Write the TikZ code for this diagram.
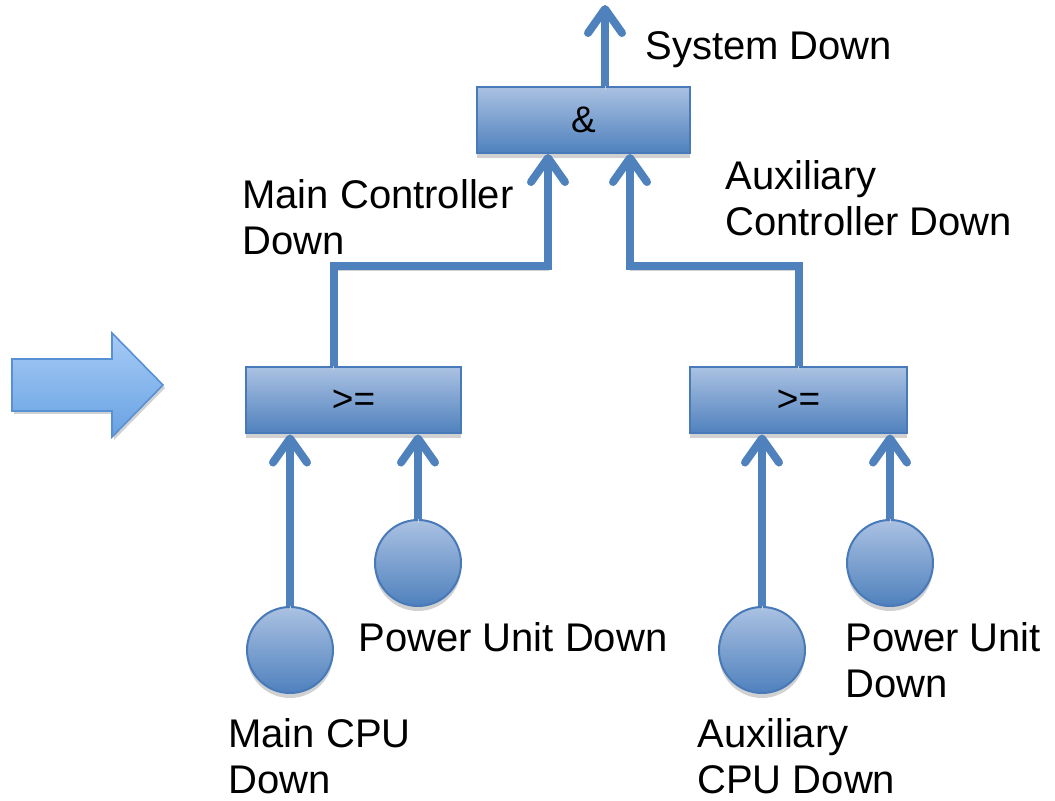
\documentclass[tikz,border=0pt]{standalone}
\usepackage{fontspec}
\setmainfont{Liberation Sans}
\usetikzlibrary{arrows.meta,positioning,calc,shadows}
\definecolor{gatetop}{RGB}{170,193,226}
\definecolor{gatebot}{RGB}{79,129,189}
\definecolor{gateedge}{RGB}{72,122,185}
\definecolor{linkblue}{RGB}{79,129,189}
\definecolor{bigtop}{RGB}{166,203,247}
\definecolor{bigbot}{RGB}{104,162,226}
\definecolor{bigedge}{RGB}{88,144,212}
\colorlet{shade}{black!18}
\tikzset{>={Straight Barb[length=12pt,width=17pt,round]}}

\begin{document}
\begin{tikzpicture}[x=0.5pt, y=-0.5pt,
    gate/.style={draw=gateedge, line width=1pt, top color=gatetop, bottom color=gatebot,
        minimum height=33pt, inner sep=0pt, font=\fontsize{18.5}{20}\selectfont,
        drop shadow={shadow xshift=0pt, shadow yshift=-2.5pt, fill=shade, opacity=1}},
    event/.style={circle, draw=gateedge, line width=1pt, top color=gatetop, bottom color=gatebot,
        minimum size=43pt, inner sep=0pt,
        drop shadow={shadow xshift=0pt, shadow yshift=-2.5pt, fill=shade, opacity=1}},
    conn/.style={->, linkblue, line width=4pt,
        preaction={draw=shade, transform canvas={yshift=-2pt}}},
    lbl/.style={anchor=west, align=left, inner sep=0pt, font=\fontsize{20}{23}\selectfont}]

    \useasboundingbox (0,0) rectangle (1055,801);

    % big arrow on the left
    \draw[bigedge, line width=0.8pt, top color=bigtop, bottom color=bigbot,
        drop shadow={shadow xshift=1pt, shadow yshift=-1.5pt, fill=shade, opacity=1}]
        (12,359) -- (112,359) -- (112,333) -- (163,385) -- (112,437) -- (112,411) -- (12,411) -- cycle;

    % gates
    \node[gate, minimum width=106.5pt] (andg) at (583.5,120) {\&};
    \node[gate, minimum width=107.5pt] (geL) at (353.5,400.5) {>=};
    \node[gate, minimum width=108.5pt] (geR) at (798.5,400.5) {>=};

    % basic events
    \node[event] (cpuM) at (290,650) {};
    \node[event] (pwrM) at (418,563) {};
    \node[event] (cpuA) at (762,650) {};
    \node[event] (pwrA) at (890,563) {};

    % connections
    \coordinate (sys) at (605,5);
    \draw[conn] (andg.north -| sys) -- (sys);
    \draw[conn] ([xshift=-10pt]geL.north) -- ++(0,-100) -| ([xshift=-17.75pt]andg.south);
    \draw[conn] (geR.north) -- ++(0,-100) -| ([xshift=23.25pt]andg.south);
    \draw[conn] (cpuM.north) -- (cpuM.north |- geL.south);
    \draw[conn] (pwrM.north) -- (pwrM.north |- geL.south);
    \draw[conn] (cpuA.north) -- (cpuA.north |- geR.south);
    \draw[conn] (pwrA.north) -- (pwrA.north |- geR.south);

    % labels
    \node[lbl] (tSys) at (645,50) {System Down};
    \node[lbl] (tMC) at (242,217) {Main Controller\\Down};
    \node[lbl] (tAC) at (725,198) {Auxiliary\\Controller Down};
    \node[lbl] (tPM) at (358,637) {Power Unit Down};
    \node[lbl] (tCM) at (228,756) {Main CPU\\Down};
    \node[lbl] (tPA) at (845,660) {Power Unit\\Down};
    \node[lbl] (tCA) at (697,756) {Auxiliary\\CPU Down};
\end{tikzpicture}
\end{document}
